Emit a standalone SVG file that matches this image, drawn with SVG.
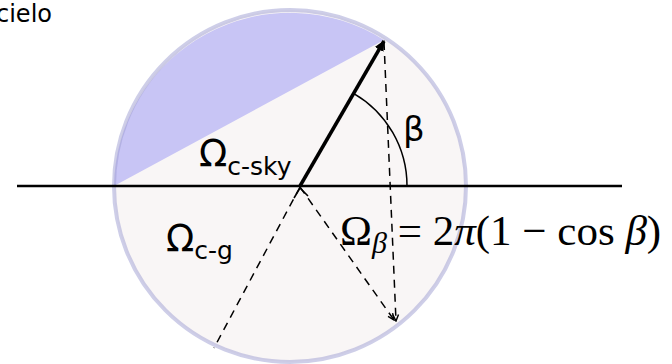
<svg xmlns="http://www.w3.org/2000/svg" width="672" height="364" viewBox="0 0 672 364">
<style>
.sans{font-family:"DejaVu Sans","Liberation Sans",sans-serif;fill:#000}
.serif{font-family:"Liberation Serif","DejaVu Serif",serif;fill:#000}
.dash{fill:none;stroke:#000;stroke-width:1.5;stroke-dasharray:8 6}
</style>
<defs>
<marker id="arr" viewBox="0 0 10 10" refX="9" refY="5" markerWidth="8" markerHeight="8" markerUnits="userSpaceOnUse" orient="auto">
<path d="M1 1.5 L9 5 L1 8.5" fill="none" stroke="#000" stroke-width="1.8"/>
</marker>
<marker id="arrThick" viewBox="0 0 10 10" refX="8" refY="5" markerWidth="3.5" markerHeight="3.5" orient="auto">
<path d="M0 1 L9 5 L0 9 Z" fill="#000"/>
</marker>
</defs>
<g id="sphere">
<circle cx="290" cy="186" r="176" fill="#f9f6f6"/>
<path d="M384 40 A176 176 0 0 0 114 186 Z" fill="#c8c5f5"/>
<circle cx="290" cy="186" r="176" fill="none" stroke="#9d9dd2" stroke-opacity="0.5" stroke-width="4"/>
</g>
<g id="connectors">
<line x1="17" y1="186" x2="622" y2="186" stroke="#000" stroke-width="2.5"/>
<line x1="300" y1="186" x2="384" y2="41" stroke="#000" stroke-width="3.5" marker-end="url(#arrThick)"/>
<path d="M384 42 L396 321" class="dash" marker-end="url(#arr)"/>
<path d="M300 187 L394 320" class="dash" marker-end="url(#arr)"/>
<path d="M300 187 L214 348" class="dash"/>
<path d="M294 198 L300 188 L308 196" fill="none" stroke="#000" stroke-width="1.6"/>
<path d="M353.5 93.3 A107 107 0 0 1 407 186" fill="none" stroke="#000" stroke-width="1.5"/>
</g>
<g id="labels">
<text class="sans" x="-4" y="22" font-size="24">cielo</text>
<text class="sans" x="199" y="166" font-size="37">Ω<tspan font-size="25" dy="9">c-sky</tspan></text>
<text class="sans" x="403" y="141" font-size="34">β</text>
<text class="sans" x="166" y="251" font-size="37">Ω<tspan font-size="25" dy="8">c-g</tspan></text>
<text class="serif" x="340" y="245" font-size="43">Ω<tspan font-size="30" font-style="italic" dy="8">β</tspan><tspan dy="-8"> = 2</tspan><tspan font-style="italic">π</tspan>(1 − cos <tspan font-style="italic">β</tspan>)</text>
</g>
</svg>
